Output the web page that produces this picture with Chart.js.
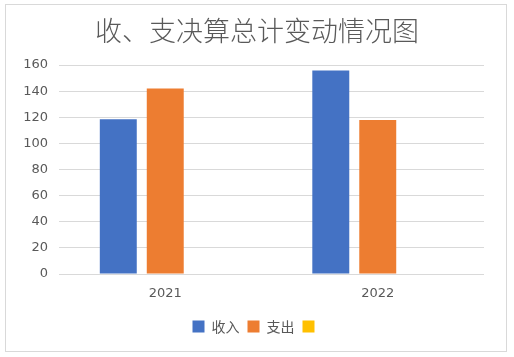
<!DOCTYPE html>
<html>
<head>
<meta charset="utf-8">
<script src="https://cdn.jsdelivr.net/npm/chart.js@4"></script>
<style>
  html, body { margin: 0; padding: 0; background: #fff; }
  #wrap { position: relative; width: 514px; height: 357px; }
  #frame { position: absolute; left: 5px; top: 4px; width: 502px; height: 348px; box-sizing: border-box; border: 1px solid #d9d9d9; pointer-events: none; }
  canvas { position: absolute; left: 0; top: 0; }
</style>
</head>
<body>
<div id="wrap">
  <canvas id="c" width="514" height="357"></canvas>
  <div id="frame"></div>
</div>
<script>
const titleText = '收、支决算总计变动情况图';
const categories = ['2021', '2022'];
const seriesNames = ['收入', '支出', ''];
const incomeValues = [118.5, 155.7];
const expenseValues = [142, 117.8];
const thirdValues = [0, 0];
const seriesColors = ['#4472C4', '#ED7D31', '#FFC000'];
const yTicks = [0, 20, 40, 60, 80, 100, 120, 140, 160];

const textColor = '#595959';
const gridColor = '#d9d9d9';

new Chart(document.getElementById('c'), {
  type: 'bar',
  data: {
    labels: categories,
    datasets: [
      { label: seriesNames[0], data: incomeValues, backgroundColor: seriesColors[0] },
      { label: seriesNames[1], data: expenseValues, backgroundColor: seriesColors[1] },
      { label: seriesNames[2], data: thirdValues, backgroundColor: seriesColors[2] }
    ].map(d => Object.assign(d, { categoryPercentage: 0.663, barPercentage: 0.787, borderWidth: 0 }))
  },
  options: {
    responsive: false,
    animation: false,
    events: [],
    layout: { padding: { top: 0, left: 0, right: 0, bottom: 13.5 } },
    plugins: {
      title: {
        display: true,
        text: titleText,
        color: textColor,
        font: { family: '"Noto Sans CJK SC", sans-serif', size: 27, weight: '300', lineHeight: 1.2 },
        padding: { top: 14.8, bottom: 17.8 }
      },
      legend: {
        display: true,
        position: 'bottom',
        labels: {
          color: textColor,
          font: { family: '"Noto Sans CJK SC", sans-serif', size: 14 },
          boxWidth: 12,
          boxHeight: 12,
          padding: 8
        }
      },
      tooltip: { enabled: false }
    },
    scales: {
      x: {
        grid: { display: false, drawTicks: false },
        border: { display: false },
        ticks: { color: textColor, font: { family: '"DejaVu Sans", sans-serif', size: 13 }, padding: 12.2 },
        afterFit: s => { s.height = 37.5; }
      },
      y: {
        min: 0,
        max: 160,
        grid: { color: gridColor, lineWidth: 1, drawTicks: false },
        border: { display: false },
        afterBuildTicks: s => { s.ticks = yTicks.map(v => ({ value: v })); },
        ticks: { color: textColor, font: { family: '"DejaVu Sans", sans-serif', size: 13 }, padding: 11 },
        afterFit: s => { s.width = 59; }
      },
      yPad: {
        position: 'right',
        display: true,
        grid: { display: false, drawTicks: false },
        border: { display: false },
        ticks: { display: false },
        afterFit: s => { s.width = 30; }
      }
    }
  }
});
</script>
</body>
</html>
